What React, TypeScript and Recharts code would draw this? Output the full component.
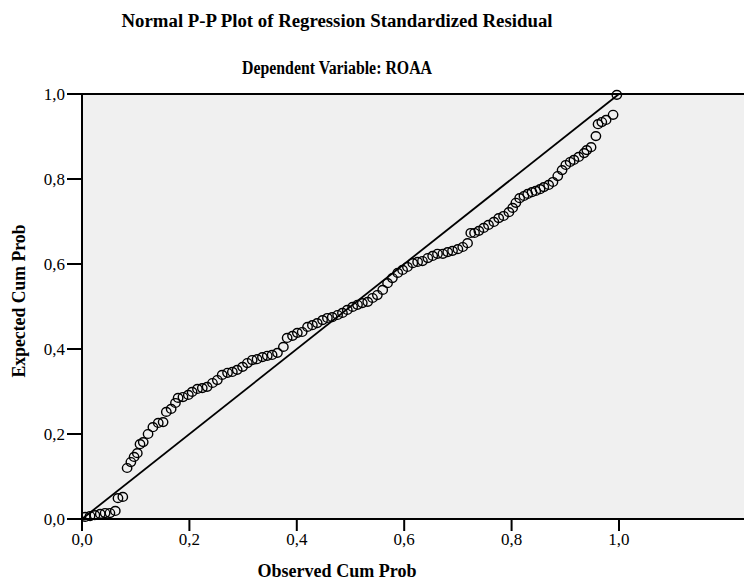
import React from "react";
import { ScatterChart, Scatter, XAxis, YAxis, CartesianGrid, ReferenceLine } from "recharts";

const titleText = "Normal P-P Plot of Regression Standardized Residual";
const subtitleText = "Dependent Variable: ROAA";
const xAxisTitle = "Observed Cum Prob";
const yAxisTitle = "Expected Cum Prob";

const xTicks = [0, 0.2, 0.4, 0.6, 0.8, 1.0];
const yTicks = [0, 0.2, 0.4, 0.6, 0.8, 1.0];

const observedCumProb = [
  0.006, 0.015, 0.024, 0.034, 0.043, 0.052, 0.062, 0.067, 0.076, 0.084,
  0.091, 0.097, 0.103, 0.108, 0.114, 0.123, 0.132, 0.142, 0.151, 0.157,
  0.166, 0.174, 0.179, 0.188, 0.198, 0.205, 0.215, 0.224, 0.233, 0.243,
  0.252, 0.261, 0.271, 0.280, 0.289, 0.299, 0.308, 0.317, 0.326, 0.336,
  0.345, 0.354, 0.364, 0.375, 0.382, 0.392, 0.401, 0.410, 0.420, 0.429,
  0.438, 0.448, 0.457, 0.466, 0.476, 0.485, 0.494, 0.504, 0.513, 0.522,
  0.532, 0.541, 0.550, 0.560, 0.569, 0.578, 0.588, 0.597, 0.606, 0.616,
  0.625, 0.634, 0.644, 0.653, 0.662, 0.672, 0.681, 0.690, 0.700, 0.709,
  0.718, 0.724, 0.731, 0.739, 0.748, 0.757, 0.767, 0.776, 0.785, 0.795,
  0.802, 0.808, 0.815, 0.823, 0.830, 0.838, 0.845, 0.853, 0.860, 0.869,
  0.877, 0.886, 0.894, 0.901, 0.909, 0.916, 0.925, 0.935, 0.940, 0.948,
  0.957, 0.961, 0.968, 0.976, 0.989, 0.996,
];

const expectedCumProb = [
  0.005, 0.007, 0.009, 0.012, 0.014, 0.014, 0.019, 0.049, 0.052, 0.120,
  0.134, 0.146, 0.155, 0.176, 0.181, 0.200, 0.216, 0.226, 0.228, 0.252,
  0.259, 0.273, 0.285, 0.287, 0.292, 0.299, 0.306, 0.308, 0.311, 0.320,
  0.327, 0.339, 0.344, 0.346, 0.351, 0.358, 0.367, 0.374, 0.376, 0.381,
  0.384, 0.386, 0.391, 0.405, 0.426, 0.431, 0.438, 0.440, 0.452, 0.456,
  0.461, 0.468, 0.473, 0.475, 0.480, 0.485, 0.492, 0.499, 0.504, 0.508,
  0.511, 0.520, 0.527, 0.539, 0.555, 0.567, 0.579, 0.586, 0.593, 0.602,
  0.605, 0.607, 0.614, 0.619, 0.624, 0.624, 0.628, 0.631, 0.635, 0.640,
  0.649, 0.673, 0.673, 0.678, 0.685, 0.692, 0.699, 0.708, 0.713, 0.722,
  0.732, 0.744, 0.755, 0.760, 0.765, 0.769, 0.772, 0.776, 0.781, 0.786,
  0.793, 0.807, 0.821, 0.833, 0.840, 0.845, 0.852, 0.861, 0.868, 0.875,
  0.901, 0.929, 0.934, 0.939, 0.951, 0.998,
];

const data = observedCumProb.map((x, i) => ({ x, y: expectedCumProb[i] }));

const fmt = (v: number) => v.toFixed(1).replace(".", ",");
const FONT = "'Liberation Serif', 'Times New Roman', serif";

const RingShape = (props: any) => {
  const { cx, cy } = props;
  if (cx == null || cy == null) return null;
  return <ellipse cx={cx} cy={cy} rx={4.7} ry={4.4} fill="none" stroke="#000" strokeWidth={1.4} />;
};

export default function App() {
  return (
    <div style={{ position: "absolute", left: 0, top: 0, width: 744, height: 581, background: "#fff", overflow: "hidden" }}>
      <ScatterChart width={744} height={581} margin={{ top: 94, right: 0, bottom: 32, left: 0 }}>
        <CartesianGrid horizontal={false} vertical={false} fill="#f0f0f0" />
        <XAxis
          type="number"
          dataKey="x"
          domain={[0, 1.2328]}
          ticks={xTicks}
          tickFormatter={fmt}
          allowDataOverflow
          height={30}
          tickSize={12}
          axisLine={{ stroke: "#000", strokeWidth: 2 }}
          tickLine={{ stroke: "#000", strokeWidth: 2 }}
          tick={{ fill: "#000", fontSize: 17, fontFamily: FONT }}
        />
        <YAxis
          type="number"
          dataKey="y"
          domain={[0, 1]}
          ticks={yTicks}
          tickFormatter={fmt}
          width={82}
          tickSize={15}
          axisLine={{ stroke: "#000", strokeWidth: 2 }}
          tickLine={{ stroke: "#000", strokeWidth: 2 }}
          tick={{ fill: "#000", fontSize: 17, fontFamily: FONT }}
        />
        <ReferenceLine y={1} stroke="#000" strokeWidth={2} ifOverflow="visible" />
        <ReferenceLine segment={[{ x: 0, y: 0 }, { x: 1, y: 1 }]} stroke="#000" strokeWidth={1.8} />
        <Scatter data={data} isAnimationActive={false} shape={RingShape} />
      </ScatterChart>
      <svg width={744} height={581} style={{ position: "absolute", left: 0, top: 0, pointerEvents: "none" }}>
        <text x={337} y={27} textAnchor="middle" fontFamily={FONT} fontWeight="bold" fontSize={18} fill="#000" textLength={431} lengthAdjust="spacingAndGlyphs">{titleText}</text>
        <text x={337} y={74} textAnchor="middle" fontFamily={FONT} fontWeight="bold" fontSize={18} fill="#000" textLength={190} lengthAdjust="spacingAndGlyphs">{subtitleText}</text>
        <text x={337} y={577} textAnchor="middle" fontFamily={FONT} fontWeight="bold" fontSize={18} fill="#000" textLength={159} lengthAdjust="spacingAndGlyphs">{xAxisTitle}</text>
        <text x={25} y={301} textAnchor="middle" fontFamily={FONT} fontWeight="bold" fontSize={18} fill="#000" textLength={153} lengthAdjust="spacingAndGlyphs" transform="rotate(-90 25 301)">{yAxisTitle}</text>
      </svg>
    </div>
  );
}
